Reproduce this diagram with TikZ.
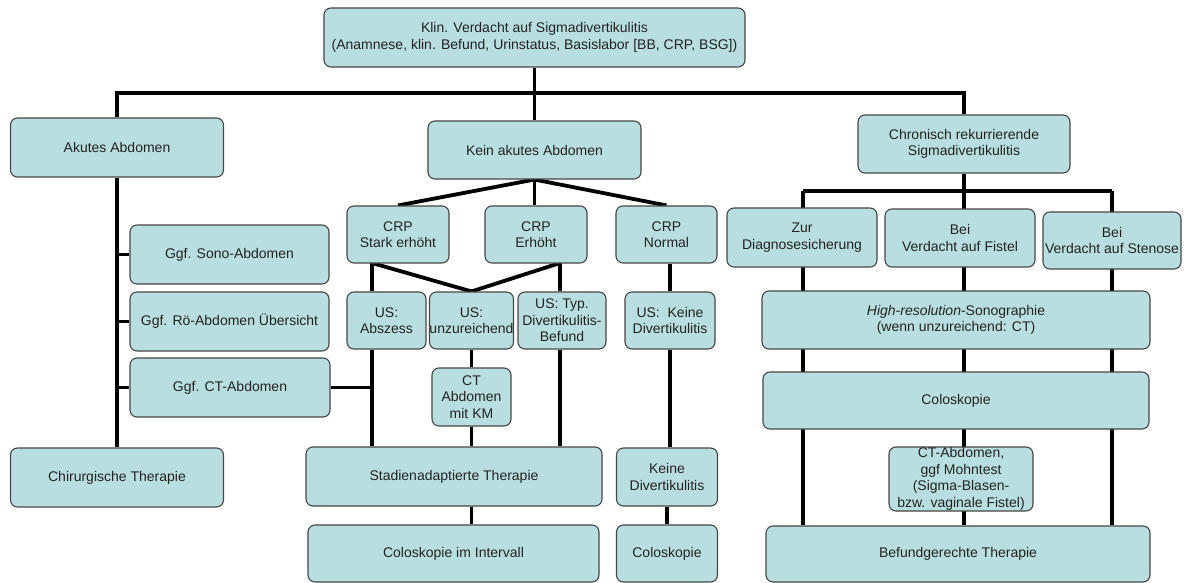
\documentclass[tikz,border=0pt]{standalone}
\usepackage{fontspec}
\setmainfont{Liberation Sans}
\usetikzlibrary{backgrounds}
\definecolor{boxfill}{RGB}{184,222,224}
\definecolor{boxline}{RGB}{70,70,70}
\definecolor{txt}{RGB}{35,35,35}
\tikzset{
  box/.style={draw=boxline, fill=boxfill, line width=1.1pt, rounded corners=7pt,
    align=center, inner sep=0pt, text=txt, font=\fontsize{14}{16.5}\selectfont},
  conn/.style={line width=3.8pt, black},
}
\begin{document}
\begin{tikzpicture}[x=1pt,y=-1pt]
\useasboundingbox (0,0) rectangle (1184,583);
% nodes
\node[box, minimum width=421, minimum height=59] (top) at (534.5,37.5) {Klin. Verdacht auf Sigmadivertikulitis\\(Anamnese, klin. Befund, Urinstatus, Basislabor [BB, CRP, BSG])};
\node[box, minimum width=213, minimum height=59] (akut) at (117,147.5) {Akutes Abdomen};
\node[box, minimum width=213, minimum height=58] (kein) at (534.5,150) {Kein akutes Abdomen};
\node[box, minimum width=212, minimum height=58] (chron) at (964,144) {Chronisch rekurrierende\\Sigmadivertikulitis};
\node[box, minimum width=199, minimum height=59] (sono) at (229.5,254.5) {Ggf. Sono-Abdomen};
\node[box, minimum width=199, minimum height=59] (roe) at (229.5,321.5) {Ggf. Rö-Abdomen Übersicht};
\node[box, minimum width=200, minimum height=59] (ctabd) at (230,387.5) {Ggf. CT-Abdomen};
\node[box, minimum width=213, minimum height=59] (chir) at (117,477.5) {Chirurgische Therapie};
\node[box, minimum width=102, minimum height=57] (crp1) at (398,234.5) {CRP\\Stark erhöht};
\node[box, minimum width=102, minimum height=57] (crp2) at (536,234.5) {CRP\\Erhöht};
\node[box, minimum width=101, minimum height=57] (crp3) at (666.5,234.5) {CRP\\Normal};
\node[box, minimum width=79, minimum height=57] (us1) at (386.5,320.5) {US:\\Abszess};
\node[box, minimum width=79, minimum height=57] (us2) at (471.5,320.5) {US:\\unzureichend};
\node[box, minimum width=88, minimum height=57] (us3) at (562,320.5) {US: Typ.\\Divertikulitis-\\Befund};
\node[box, minimum width=90, minimum height=57] (us4) at (670,320.5) {US:\ \ Keine\\Divertikulitis};
\node[box, minimum width=79, minimum height=58] (ctkm) at (471.5,397) {CT\\Abdomen\\mit KM};
\node[box, minimum width=296, minimum height=59] (stad) at (454,476.5) {Stadienadaptierte Therapie};
\node[box, minimum width=291, minimum height=57] (colint) at (453.5,553.5) {Coloskopie im Intervall};
\node[box, minimum width=101, minimum height=58] (keine) at (667,477) {Keine\\Divertikulitis};
\node[box, minimum width=101, minimum height=57] (colo) at (667,553.5) {Coloskopie};
\node[box, minimum width=150, minimum height=59] (zur) at (802,237.5) {Zur\\Diagnosesicherung};
\node[box, minimum width=150, minimum height=58] (fistel) at (960,238) {Bei\\Verdacht auf Fistel};
\node[box, minimum width=138, minimum height=57] (stenose) at (1112,240.5) {Bei\\Verdacht auf Stenose};
\node[box, minimum width=388, minimum height=58] (hires) at (956,320) {\textit{High-resolution}-Sonographie\\(wenn unzureichend: CT)};
\node[box, minimum width=386, minimum height=57] (colo2) at (956,400.5) {Coloskopie};
\node[box, minimum width=144, minimum height=64] (ctmohn) at (961,479) {CT-Abdomen,\\ggf Mohntest\\(Sigma-Blasen-\\bzw. vaginale Fistel)};
\node[box, minimum width=384, minimum height=56] (befund) at (958,554) {Befundgerechte Therapie};
% helper coordinates
\coordinate (hb) at (534,93);
\coordinate (c1) at (372,263);
\coordinate (c2) at (560,263);
\coordinate (r1) at (803,191);
\coordinate (r2) at (964,191);
\coordinate (r3) at (1112,191);
\begin{pgfonlayer}{background}
\fill[white] (0,0) rectangle (1184,583);
\draw[conn] (top.south) -- (kein.north);
\draw[conn] (akut.north) |- (hb) -| (chron.north);
\draw[conn] (akut.south) -- (chir.north);
\draw[conn] (sono.west) -- (sono.west -| akut.south);
\draw[conn] (roe.west) -- (roe.west -| akut.south);
\draw[conn] (ctabd.west) -- (ctabd.west -| akut.south);
\draw[conn] (kein.south) -- (crp1.north);
\draw[conn] (kein.south) -- (kein.south |- crp2.north);
\draw[conn] (kein.south) -- (crp3.north);
\draw[conn] (c1) -- (c1 |- us1.north);
\draw[conn] (c1) -- (us2.north);
\draw[conn] (c2) -- (us2.north);
\draw[conn] (c2) -- (c2 |- us3.north);
\draw[conn] (us4.north) -- (us4.north |- crp3.south);
\draw[conn] (c1 |- us1.south) -- (c1 |- stad.north);
\draw[conn] (ctabd.east) -- (ctabd.east -| c1);
\draw[conn] (us2.south) -- (ctkm.north);
\draw[conn] (ctkm.south) -- (ctkm.south |- stad.north);
\draw[conn] (c2 |- us3.south) -- (c2 |- stad.north);
\draw[conn] (us4.south) -- (us4.south |- keine.north);
\draw[conn] (ctkm.south |- stad.south) -- (ctkm.south |- colint.north);
\draw[conn] (keine.south) -- (colo.north);
\draw[conn] (chron.south) -- (r2);
\draw[conn] (r1) -- (r3);
\draw[conn] (r1) -- (r1 |- befund.north);
\draw[conn] (r2) -- (r2 |- befund.north);
\draw[conn] (r3) -- (r3 |- befund.north);
\end{pgfonlayer}
\end{tikzpicture}
\end{document}
